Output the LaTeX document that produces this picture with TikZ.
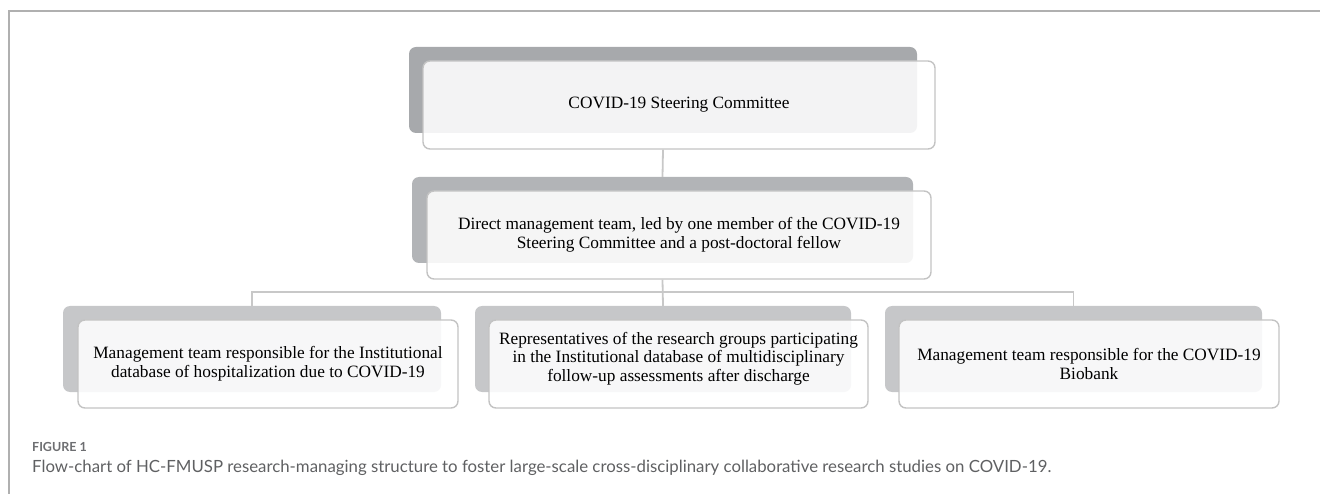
\documentclass[tikz,border=0pt]{standalone}
\usepackage{fontspec}
\setmainfont{Liberation Serif}
\newfontfamily\capfont{Lato}
\definecolor{backA}{HTML}{A7A9AC}
\definecolor{backB}{HTML}{B2B4B7}
\definecolor{backC}{HTML}{C6C7C9}
\definecolor{linegray}{HTML}{C3C3C3}
\definecolor{conngray}{HTML}{C8C8C8}
\definecolor{framegray}{HTML}{B0B0B0}
\definecolor{capgray}{HTML}{5F6062}
\definecolor{figgray}{HTML}{6D6E71}
\begin{document}
\begin{tikzpicture}[x=1pt,y=-1pt,
  backbox/.style={rounded corners=7pt, inner sep=0pt, minimum height=86pt},
  frontbox/.style={draw=linegray, line width=1.4pt, fill=white, fill opacity=0.87, text opacity=1,
    rounded corners=7pt, inner sep=0pt, minimum height=88pt, align=center,
    font=\fontsize{17.3}{18.6}\selectfont},
  boxtext/.style={inner sep=0pt, align=center, font=\fontsize{17.3}{18.6}\selectfont},
  conn/.style={draw=conngray, line width=1.8pt},
]
\useasboundingbox (0,0) rectangle (1320,494);
\draw[framegray, line width=1.5pt] (9,494) -- (9,11) -- (1320,11);

% back boxes
\node[backbox, fill=backA, minimum width=508pt] (tb) at (663,90) {};
\node[backbox, fill=backB, minimum width=501pt] (mb) at (662.5,220) {};
\node[backbox, fill=backC, minimum width=378pt] (lb) at (252,349) {};
\node[backbox, fill=backC, minimum width=376pt] (cb) at (663,349) {};
\node[backbox, fill=backC, minimum width=377pt] (rb) at (1073.5,349) {};

% front boxes
\node[frontbox, minimum width=512pt] (tf) at (679,105) {COVID-19 Steering Committee};
\node[frontbox, minimum width=504pt] (mf) at (679,235) {Direct management team, led by one member of the COVID-19\\Steering Committee and a post-doctoral fellow};
\node[frontbox, minimum width=380pt] (lf) at (268,364) {Management team responsible for the Institutional\\database of hospitalization due to COVID-19};
\node[frontbox, minimum width=379pt] (cf) at (678.5,364) {};
\node[boxtext] (cft) at (678.5,358.5) {Representatives of the research groups participating\\in the Institutional database of multidisciplinary\\follow-up assessments after discharge};
\node[frontbox, minimum width=380pt] (rf) at (1089,364) {Management team responsible for the COVID-19\\Biobank};

% connectors
\coordinate (hj) at (663,292);
\draw[conn] (tb.center |- tf.south) -- (mb.north);
\draw[conn] (mb.center |- mf.south) -- (cb.north);
\draw[conn] (lb.north) -- (lb.north |- hj) -- (rb.north |- hj) -- (rb.north);

% caption
\node[anchor=base west, inner sep=0pt, text=figgray, font=\capfont\bfseries\fontsize{12.5}{14}\selectfont] (figlab) at (32,451) {FIGURE 1};
\node[anchor=base west, inner sep=0pt, text=capgray, font=\capfont\fontsize{16.8}{19}\selectfont] (cap) at (32,472) {Flow-chart of HC-FMUSP research-managing structure to foster large-scale cross-disciplinary collaborative research studies on COVID-19.};
\end{tikzpicture}
\end{document}
